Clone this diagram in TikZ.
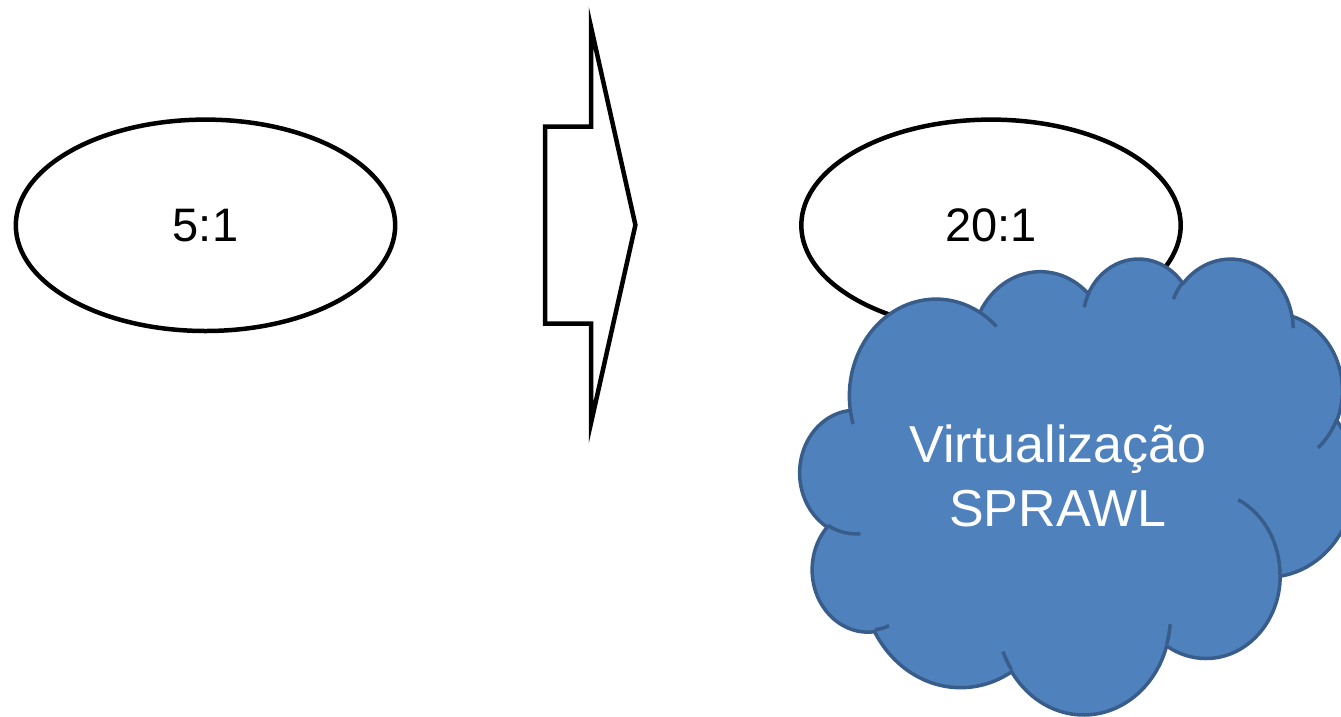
\documentclass[tikz,border=0pt]{standalone}
\usepackage{fontspec}
\setmainfont{Liberation Sans}
\usetikzlibrary{shapes.geometric}
\definecolor{cloudfill}{HTML}{4F81BD}
\definecolor{cloudedge}{HTML}{385D8A}
% cloud box: left, top, px per 1000 path units
\def\cldx{800.1}
\def\cldy{257.5}
\def\cldsx{12.836}
\def\cldsy{10.551}
% DrawingML arcTo: wR hR (in 1000 units), start angle, sweep (degrees, visual)
\newcommand\cldarc[4]{%
  \pgfextra{%
    \pgfmathparse{atan2((#1)*sin(#3),(#2)*cos(#3))}\let\cldtmpa\pgfmathresult
    \pgfmathparse{atan2((#1)*sin(#3+#4),(#2)*cos(#3+#4))}\let\cldtmpb\pgfmathresult
    \pgfmathparse{\cldtmpb-(\cldtmpa)}\let\cldtmpd\pgfmathresult
    \pgfmathparse{\cldtmpd<0 ? 0-(\cldtmpd+360) : 0-(\cldtmpd)}\xdef\clddelta{\pgfmathresult}%
    \pgfmathparse{0-(\cldtmpa)}\xdef\cldstart{\pgfmathresult}%
    \pgfmathparse{(#1)*\cldsx}\xdef\cldrx{\pgfmathresult}%
    \pgfmathparse{(#2)*\cldsy}\xdef\cldry{\pgfmathresult}%
  }%
  arc[start angle=\cldstart, delta angle=\clddelta, x radius=\cldrx pt, y radius=\cldry pt]%
}
\begin{document}
\begin{tikzpicture}[x=1pt,y=-1pt,
  ratio/.style={ellipse, draw=black, line width=4.5pt, fill=white,
    minimum width=379.4pt, minimum height=211.4pt, inner sep=0pt,
    font=\fontsize{47}{56}\selectfont},
  blockarrow/.style={draw=black, fill=white, line width=4.5pt, miter limit=20},
  cloudshape/.style={fill=cloudfill, draw=cloudedge, line width=3.5pt, line join=round},
  cloudstub/.style={draw=cloudedge, line width=3.5pt},
  cloudtext/.style={text=white, align=center, inner sep=0pt,
    font=\fontsize{52}{64}\selectfont}]
\path[use as bounding box] (0,0) rectangle (1341,716);

% ellipses
\node[ratio] (left) at (205.5,225.3) {5:1};
\node[ratio] (right) at (991,225.3) {20:1};

% block arrow
\coordinate (a1) at (545,126.5);
\coordinate (a2) at (591,126.5);
\coordinate (a3) at (591,27);
\coordinate (a4) at (635.4,225);
\coordinate (a5) at (591,423);
\coordinate (a6) at (591,323.5);
\coordinate (a7) at (545,323.5);
\draw[blockarrow] (a1) -- (a2) -- (a3) -- (a4) -- (a5) -- (a6) -- (a7) -- cycle;

% cloud
\begin{scope}
\clip (0,0) rectangle (1341,716);
\coordinate (c0) at ({\cldx+3.9*\cldsx},{\cldy+14.37*\cldsy});
\path[cloudshape] (c0)
  \cldarc{6.753}{9.190}{-190.4875}{123.7805}
  \cldarc{5.333}{7.267}{-144.1024}{89.9452}
  \cldarc{4.365}{5.945}{-145.8079}{99.7230}
  \cldarc{4.857}{6.595}{-130.9861}{117.2417}
  \cldarc{5.333}{7.273}{-78.7089}{109.0269}
  \cldarc{6.775}{9.220}{-46.2673}{130.2690}
  \cldarc{5.785}{7.867}{0.6250}{114.0333}
  \cldarc{6.752}{9.215}{22.4516}{115.1726}
  \cldarc{7.720}{10.543}{66.2426}{75.7110}
  \cldarc{4.360}{5.918}{-274.9421}{146.7356}
  \cldarc{4.345}{5.945}{-246.8285}{152.5189}
  -- cycle;
\draw[cloudstub] ({\cldx+4.693*\cldsx},{\cldy+26.177*\cldsy}) \cldarc{4.345}{5.945}{86.7420}{26.4295};
\draw[cloudstub] ({\cldx+6.928*\cldsx},{\cldy+34.899*\cldsy}) \cldarc{4.360}{5.918}{73.6105}{11.4475};
\draw[cloudstub] ({\cldx+16.478*\cldsx},{\cldy+39.090*\cldsy}) \cldarc{6.752}{9.215}{137.6242}{14.0811};
\draw[cloudstub] ({\cldx+28.827*\cldsx},{\cldy+34.751*\cldsy}) \cldarc{6.752}{9.215}{6.4533}{15.9984};
\draw[cloudstub] ({\cldx+34.129*\cldsx},{\cldy+22.954*\cldsy}) \cldarc{5.785}{7.867}{-70.2924}{70.9174};
\draw[cloudstub] ({\cldx+41.798*\cldsx},{\cldy+15.354*\cldsy}) \cldarc{5.333}{7.273}{30.3180}{27.7515};
\draw[cloudstub] ({\cldx+38.324*\cldsx},{\cldy+5.426*\cldsy}) \cldarc{4.857}{6.595}{-13.7443}{14.8501};
\draw[cloudstub] ({\cldx+29.078*\cldsx},{\cldy+3.952*\cldsy}) \cldarc{4.857}{6.595}{-149.1815}{18.1959};
\draw[cloudstub] ({\cldx+22.141*\cldsx},{\cldy+4.720*\cldsy}) \cldarc{4.365}{5.945}{-163.4943}{17.6881};
\draw[cloudstub] ({\cldx+14.000*\cldsx},{\cldy+5.192*\cldsy}) \cldarc{6.753}{9.190}{-66.7070}{12.3194};
\draw[cloudstub] ({\cldx+4.127*\cldsx},{\cldy+15.789*\cldsy}) \cldarc{6.753}{9.190}{157.6544}{11.8582};
\end{scope}
\node[cloudtext] (cloudlabel) at (1058,476) {Virtualização\\SPRAWL};
\end{tikzpicture}
\end{document}
